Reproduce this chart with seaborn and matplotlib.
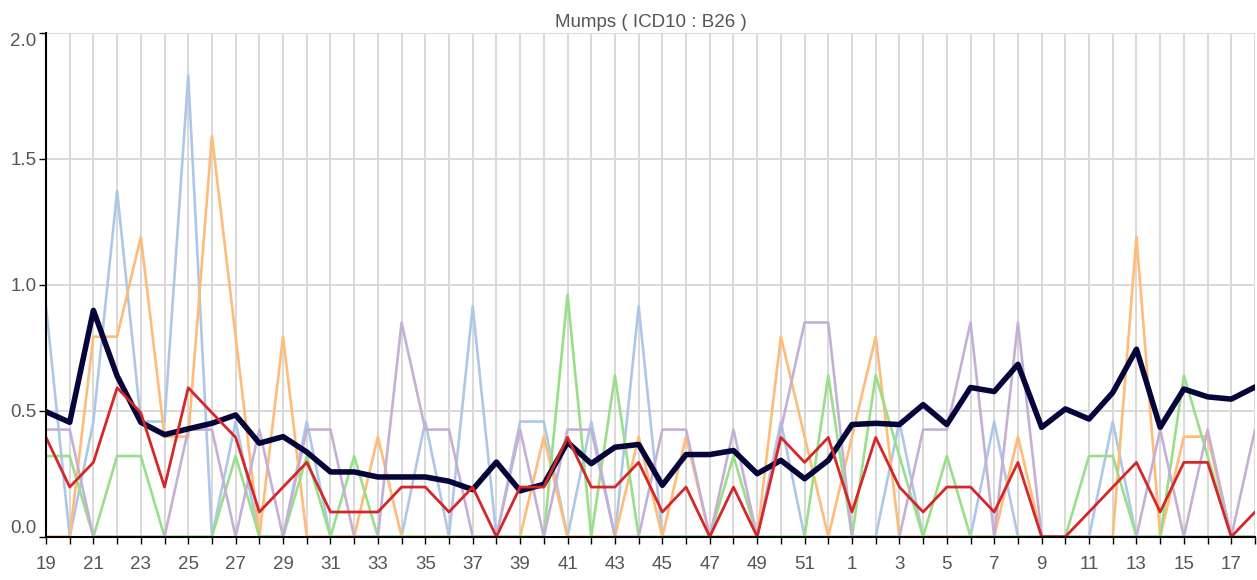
import matplotlib
matplotlib.use("Agg")
import matplotlib.pyplot as plt
import seaborn as sns
import numpy as np

# epidemiological weeks: 19..52 then 1..18
weeks = list(range(19, 53)) + list(range(1, 19))

overall = [0.496, 0.454, 0.898, 0.638, 0.454, 0.405, 0.428, 0.45, 0.483, 0.371,
           0.397, 0.336, 0.257, 0.257, 0.237, 0.237, 0.237, 0.22, 0.187, 0.296,
           0.182, 0.208, 0.375, 0.29, 0.355, 0.366, 0.204, 0.326, 0.326, 0.342,
           0.25, 0.303, 0.23, 0.303,
           0.445, 0.45, 0.445, 0.524, 0.445, 0.592, 0.576, 0.684, 0.434, 0.507,
           0.467, 0.572, 0.744, 0.434, 0.586, 0.555, 0.546, 0.594]

blue = [0.915, 0, 0.457, 1.372, 0.457, 0.457, 1.83, 0, 0.457, 0,
        0, 0.457, 0, 0, 0, 0, 0.457, 0, 0.915, 0,
        0.457, 0.457, 0, 0.457, 0, 0.915, 0, 0, 0, 0,
        0, 0.457, 0, 0,
        0, 0, 0.457, 0, 0, 0, 0.457, 0, 0, 0,
        0, 0.457, 0, 0, 0, 0, 0, 0]

orange = [0, 0, 0.794, 0.794, 1.19, 0.397, 0.397, 1.59, 0.794, 0,
          0.794, 0, 0, 0, 0.397, 0, 0, 0, 0, 0,
          0, 0.397, 0, 0, 0, 0.397, 0, 0.397, 0, 0,
          0, 0.794, 0.397, 0,
          0.397, 0.794, 0, 0, 0, 0, 0, 0.397, 0, 0,
          0, 0, 1.19, 0, 0.397, 0.397, 0, 0]

green = [0.32, 0.32, 0, 0.32, 0.32, 0, 0, 0, 0.32, 0,
         0, 0.32, 0, 0.32, 0, 0, 0, 0, 0, 0,
         0, 0, 0.96, 0, 0.64, 0, 0, 0, 0, 0.32,
         0, 0, 0, 0.64,
         0, 0.64, 0.32, 0, 0.32, 0, 0, 0, 0, 0,
         0.32, 0.32, 0, 0, 0.64, 0.32, 0, 0]

purple = [0.425, 0.425, 0, 0, 0, 0, 0.425, 0.425, 0, 0.425,
          0, 0.425, 0.425, 0, 0, 0.85, 0.425, 0.425, 0, 0,
          0.425, 0, 0.425, 0.425, 0, 0, 0.425, 0.425, 0, 0.425,
          0, 0.425, 0.85, 0.85,
          0, 0, 0, 0.425, 0.425, 0.85, 0, 0.85, 0, 0,
          0, 0, 0, 0.425, 0, 0.425, 0, 0.425]

red = [0.394, 0.197, 0.295, 0.591, 0.492, 0.197, 0.591, 0.492, 0.394, 0.098,
       0.197, 0.295, 0.098, 0.098, 0.098, 0.197, 0.197, 0.098, 0.197, 0,
       0.197, 0.197, 0.394, 0.197, 0.197, 0.295, 0.098, 0.197, 0, 0.197,
       0, 0.394, 0.295, 0.394,
       0.098, 0.394, 0.197, 0.098, 0.197, 0.197, 0.098, 0.295, 0, 0,
       0.098, 0.197, 0.295, 0.098, 0.295, 0.295, 0, 0.098]

sns.set_style("white")
plt.rcParams['font.family'] = ['Liberation Sans', 'DejaVu Sans']

fig = plt.figure(figsize=(12.57, 5.8), dpi=100)
ax = fig.add_axes([46 / 1257, 43.3 / 580, 1209 / 1257, 504 / 580])

x = np.arange(len(weeks))

series = [
    (blue, '#aec7e8', 1.9),
    (orange, '#ffbb78', 1.9),
    (green, '#98df8a', 1.9),
    (purple, '#c5b0d5', 1.9),
    (overall, '#05053a', 4.0),
    (red, '#d62728', 2.0),
]
for vals, col, lw in series:
    sns.lineplot(x=x, y=vals, color=col, linewidth=lw, ax=ax)

ax.set_xlim(0, len(weeks) - 1)
ax.set_ylim(0, 2.0)

ax.set_xticks(x)
ax.set_xticklabels([str(w) if i % 2 == 0 else '' for i, w in enumerate(weeks)])
ax.set_yticks([0, 0.5, 1.0, 1.5, 2.0])
ax.set_yticklabels(['0.0', '0.5', '1.0', '1.5', '2.0'])
ylabels = ax.get_yticklabels()
ylabels[0].set_va('bottom')
ylabels[-1].set_va('top')

ax.grid(True, color='#d9d9d9', linewidth=1.4)
ax.set_axisbelow(True)

for s in ['top', 'right']:
    ax.spines[s].set_visible(False)
for s in ['left', 'bottom']:
    ax.spines[s].set_color('black')
    ax.spines[s].set_linewidth(1.5)

ax.tick_params(axis='x', length=5, width=1, color='black', pad=9,
               labelsize=13.5, labelcolor='#555555', bottom=True)
ax.tick_params(axis='y', length=5, width=1, color='black', pad=2,
               labelsize=13.5, labelcolor='#555555', left=True)

ax.set_title("Mumps ( ICD10 : B26 )", fontsize=13.5, color='#555555', pad=4)

fig.savefig("out.png", dpi=100)
